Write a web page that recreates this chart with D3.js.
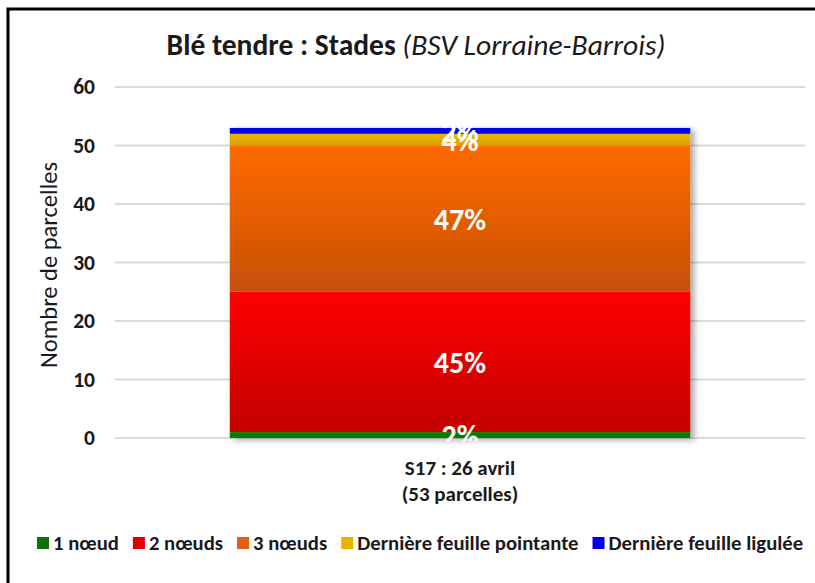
<!DOCTYPE html>
<html><head><meta charset="utf-8">
<script src="https://cdn.jsdelivr.net/npm/d3@7"></script>
<style>
body{margin:0;background:#fff;}
svg{display:block;font-family:Carlito,Lato,"Liberation Sans",sans-serif;}
</style></head>
<body><svg id="c" width="815" height="583"></svg>
<script>
const categories = ["S17 : 26 avril|(53 parcelles)"];
const seriesNames = ["1 nœud","2 nœuds","3 nœuds","Dernière feuille pointante","Dernière feuille ligulée"];
const seriesValues = [[1],[24],[25],[2],[1]];
const seriesLabels = ["2%","45%","47%","4%","2%"];
const yTicks = [0,10,20,30,40,50,60];
const colorsTop = ["#008000","#ff0000","#ff6a00","#e8b800","#0000ff"];
const colorsBottom = ["#008000","#c40000","#c85008","#dca000","#0000ee"];
const legendColors = ["#107010","#e00000","#e06010","#e8b400","#0000ee"];

const svg = d3.select("#c");
const defs = svg.append("defs");
const M = {left:115, right:805, top:87, bottom:438};
const y = d3.scaleLinear().domain([0,60]).range([M.bottom, M.top]);
const x = d3.scaleBand().domain(categories).range([M.left, M.right]).paddingInner(0.33).paddingOuter(0.167);

// frame
svg.append("rect").attr("x",8).attr("y",9).attr("width",900).attr("height",700)
  .attr("fill","none").attr("stroke","#000").attr("stroke-width",3);

// title
const t = svg.append("text").attr("x",416).attr("y",55).attr("text-anchor","middle").attr("font-size",29.5).attr("fill","#1a1a1a");
t.append("tspan").attr("font-weight","bold").text("Blé tendre : Stades ");
t.append("tspan").attr("font-style","italic").text("(BSV Lorraine-Barrois)");

// gridlines
svg.append("g").selectAll("line").data(yTicks).join("line")
  .attr("x1",M.left).attr("x2",M.right).attr("y1",d=>y(d)).attr("y2",d=>y(d))
  .attr("stroke","#d9d9d9").attr("stroke-width",2);

// y axis
const ya = svg.append("g").attr("transform",`translate(${M.left},0)`)
  .call(d3.axisLeft(y).tickValues(yTicks).tickSize(0).tickPadding(20));
ya.select(".domain").remove();
ya.selectAll("text").attr("font-size",21.5).attr("font-weight","bold").attr("fill","#1a1a1a")
  .attr("font-family","Carlito,Lato,'Liberation Sans',sans-serif");

svg.append("text").attr("transform","translate(57,265) rotate(-90)").attr("text-anchor","middle")
  .attr("font-size",24.5).attr("fill","#1a1a1a").text("Nombre de parcelles");

// gradients
seriesNames.forEach((s,i)=>{
  const g = defs.append("linearGradient").attr("id","g"+i).attr("x1",0).attr("y1",0).attr("x2",0).attr("y2",1);
  g.append("stop").attr("offset","0%").attr("stop-color",colorsTop[i]);
  g.append("stop").attr("offset","100%").attr("stop-color",colorsBottom[i]);
});
const f = defs.append("filter").attr("id","sh").attr("x","-5%").attr("y","-5%").attr("width","115%").attr("height","115%");
f.append("feDropShadow").attr("dx",4).attr("dy",2).attr("stdDeviation",3).attr("flood-color","#000").attr("flood-opacity",0.35);
defs.append("clipPath").attr("id","clip").append("rect").attr("x",0).attr("y",0).attr("width",815).attr("height",y(0)+3);

// stack
const rows = categories.map((c,ci)=>{const o={cat:c}; seriesNames.forEach((s,i)=>o[s]=seriesValues[i][ci]); return o;});
const stack = d3.stack().keys(seriesNames)(rows);
const barG = svg.append("g").attr("filter","url(#sh)");
stack.forEach((layer,i)=>{
  barG.selectAll(null).data(layer).join("rect")
    .attr("x",d=>x(d.data.cat)).attr("width",x.bandwidth())
    .attr("y",d=>y(d[1])).attr("height",d=>y(d[0])-y(d[1]))
    .attr("fill",`url(#g${i})`);
});
const lblG = svg.append("g").attr("clip-path","url(#clip)");
stack.forEach((layer,i)=>{
  lblG.selectAll(null).data(layer).join("text")
    .attr("x",d=>x(d.data.cat)+x.bandwidth()/2)
    .attr("y",d=>(y(d[0])+y(d[1]))/2+11)
    .attr("text-anchor","middle").attr("font-size",30).attr("font-weight","bold").attr("fill","#fff")
    .text(seriesLabels[i]);
});

// x labels
categories.forEach(c=>{
  const parts=c.split("|");
  parts.forEach((p,k)=>{
    svg.append("text").attr("x",x(c)+x.bandwidth()/2).attr("y",475+k*26).attr("text-anchor","middle")
      .attr("font-size",21).attr("font-weight","bold").attr("fill","#1a1a1a").text(p);
  });
});

// legend
const lg = svg.append("g");
let lx = 37;
seriesNames.forEach((s,i)=>{
  lg.append("rect").attr("x",lx).attr("y",537).attr("width",12).attr("height",12).attr("fill",legendColors[i]);
  const tx = lg.append("text").attr("x",lx+16).attr("y",550).attr("font-size",20.7).attr("font-weight","bold").attr("fill","#1a1a1a").text(s);
  lx += 16 + tx.node().getComputedTextLength() + 14;
});
</script></body></html>
